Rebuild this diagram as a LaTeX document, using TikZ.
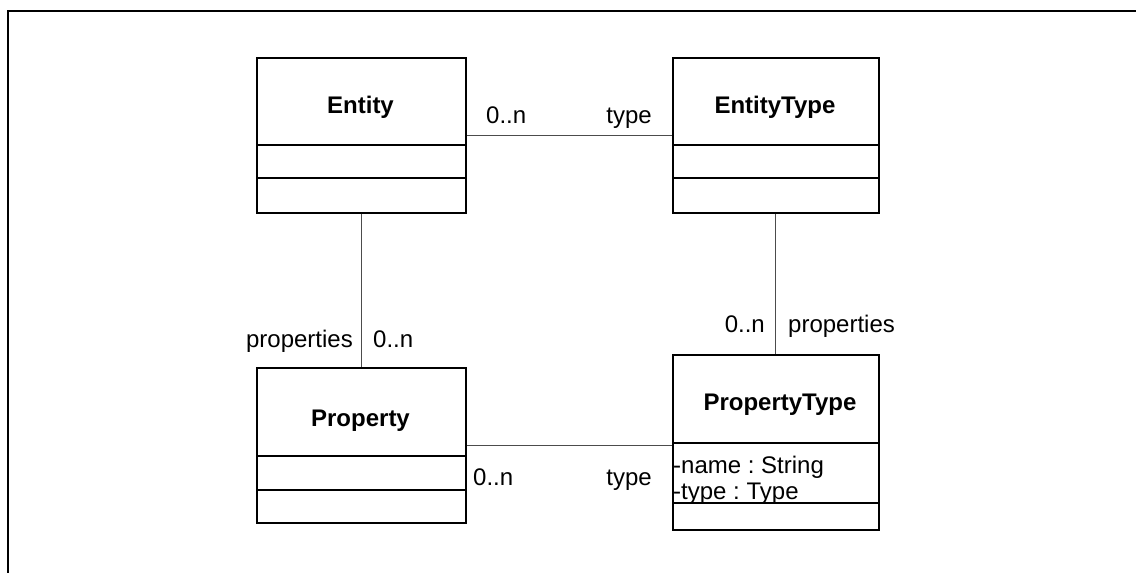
\documentclass[tikz,border=0pt]{standalone}
\usepackage{fontspec}
\setmainfont{Liberation Sans}
\frenchspacing
\begin{document}
\begin{tikzpicture}[x=1pt,y=-1pt,
  cls/.style={draw=black,line width=1.6pt,fill=white,rectangle,inner sep=0pt,anchor=north west},
  sep/.style={draw=black,line width=1.6pt},
  assoc/.style={draw=black!70,line width=1pt},
  frame/.style={draw=black,line width=2pt},
  lbl/.style={inner sep=0pt,font=\fontsize{24}{28}\selectfont},
  ttl/.style={inner sep=0pt,anchor=base,font=\fontsize{24}{28}\selectfont\bfseries}]
\useasboundingbox (0,0) rectangle (1136,573);
% page frame (top and left edges)
\draw[frame] (8,573) -- (8,11) -- (1136,11);

% class boxes
\node[cls,minimum width=209,minimum height=155] (entity) at (256,57) {};
\node[cls,minimum width=206,minimum height=155] (etype) at (672,57) {};
\node[cls,minimum width=209,minimum height=155] (property) at (256,367) {};
\node[cls,minimum width=206,minimum height=175] (ptype) at (672,354) {};

% compartment separators
\draw[sep] (entity.west |- 0,145) -- (entity.east |- 0,145);
\draw[sep] (entity.west |- 0,178) -- (entity.east |- 0,178);
\draw[sep] (etype.west |- 0,145) -- (etype.east |- 0,145);
\draw[sep] (etype.west |- 0,178) -- (etype.east |- 0,178);
\draw[sep] (property.west |- 0,456) -- (property.east |- 0,456);
\draw[sep] (property.west |- 0,490) -- (property.east |- 0,490);
\draw[sep] (ptype.west |- 0,443) -- (ptype.east |- 0,443);
\draw[sep] (ptype.west |- 0,503) -- (ptype.east |- 0,503);

% class names
\node[ttl] (entityname) at (360.5,113) {Entity};
\node[ttl] (etypename) at (775,113) {EntityType};
\node[ttl] (propertyname) at (360.5,426) {Property};
\node[ttl] (ptypename) at (780,410) {PropertyType};

% attributes
\node[lbl,anchor=base west] (attrname) at (673,473) {-name : String};
\node[lbl,anchor=base west] (attrtype) at (673,499) {-type : Type};

% associations
\draw[assoc] (entity.east) -- (etype.west);
\draw[assoc] (entity.south) -- (property.north);
\draw[assoc] (etype.south) -- (ptype.north);
\draw[assoc] (property.east) -- (ptype.west |- property.east);

% multiplicities and role names
\node[lbl,anchor=base west] (m1) at (486,123) {0..n};
\node[lbl,anchor=base east] (r1) at (652,123) {type};
\node[lbl,anchor=base east] (r2) at (353,347) {properties};
\node[lbl,anchor=base west] (m2) at (373,347) {0..n};
\node[lbl,anchor=base east] (m3) at (765,332) {0..n};
\node[lbl,anchor=base west] (r3) at (788,332) {properties};
\node[lbl,anchor=base west] (m4) at (473,485) {0..n};
\node[lbl,anchor=base east] (r4) at (652,485) {type};
\end{tikzpicture}
\end{document}
